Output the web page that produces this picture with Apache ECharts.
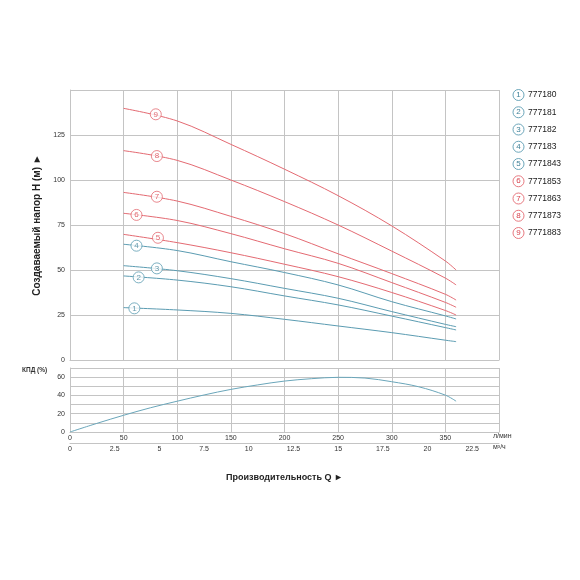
<!DOCTYPE html>
<html>
<head>
<meta charset="utf-8">
<script src="https://cdn.jsdelivr.net/npm/echarts@6/dist/echarts.min.js"></script>
<style>
html,body{margin:0;padding:0;background:#fff;}
#chart{width:580px;height:580px;}
</style>
</head>
<body>
<div id="chart"></div>
<script>
// ---- data ----
const models = ['777180','777181','777182','777183','7771843','7771853','7771863','7771873','7771883'];
const curveNumbers = ['1','2','3','4','5','6','7','8','9'];
const flowLmin = [50,100,150,200,250,300,350,360];
const head1 = [29.1,27.8,25.9,22.6,18.9,15.2,11.0,10.2];
const head2 = [46.7,44.4,40.7,35.6,30.6,24.4,18.0,16.7];
const head3 = [52.4,49.6,45.2,39.8,34.3,26.9,19.8,18.5];
const head4 = [64.3,60.8,54.6,48.6,41.7,32.4,24.5,22.8];
const head5 = [69.8,65.2,59.6,53.2,46.3,37.5,27.5,25.0];
const head6 = [81.5,77.5,70.2,61.8,53.7,43.0,32.0,29.3];
const head7 = [93.1,88.3,79.8,70.2,59.0,48.0,36.5,33.3];
const head8 = [116.3,110.9,100.0,88.0,75.0,60.5,45.5,41.7];
const head9 = [139.8,132.8,119.8,106.0,91.3,74.5,55.0,50.0];
const heads = [head1,head2,head3,head4,head5,head6,head7,head8,head9];
// circled number markers on curves
const markerFlow = [60,64,81,62,82,62,81,81,80];
const markerHead = [28.7,45.9,50.9,63.5,67.9,80.6,90.7,113.3,136.5];
// efficiency curve
const effFlow  = [0,25,50,75,100,125,150,175,200,225,250,275,300,325,350,360];
const effValue = [0,9.4,18.3,26.5,33.7,40.5,46.6,51.5,55.7,58.3,59.8,59.0,55.0,49.5,40.3,33.7];

// ---- styles ----
const TEAL = '#5b9cb2', RED = '#e46a72';
const TEAL_T = '#3f8198', RED_T = '#d8434e';
const GRID = '#c4c4c4';
const FONT = 'Liberation Sans, Arial, sans-serif';

const lineColor = i => (i < 4 ? TEAL : RED);
const legendTeal = i => i < 5;

const chart = echarts.init(document.getElementById('chart'), null, {renderer:'canvas'});

const series = heads.map((h, i) => ({
  name: models[i],
  type: 'line',
  xAxisIndex: 0, yAxisIndex: 0,
  smooth: 0.35,
  showSymbol: false,
  symbol: 'none',
  data: flowLmin.map((q, k) => [q, h[k]]),
  lineStyle: {color: lineColor(i), width: 1},
  itemStyle: {color: lineColor(i)},
  z: 3
}));

series.push({
  name: 'markers',
  type: 'scatter',
  xAxisIndex: 0, yAxisIndex: 0,
  symbol: 'circle',
  symbolSize: 11,
  z: 5,
  data: markerFlow.map((q, i) => ({
    value: [q, markerHead[i]],
    itemStyle: {color: '#fff', borderColor: lineColor(i), borderWidth: 1},
    label: {color: i < 4 ? TEAL_T : RED_T}
  })),
  label: {
    show: true, position: 'inside', fontSize: 8, fontFamily: FONT,
    formatter: p => curveNumbers[p.dataIndex]
  }
});

series.push({
  name: 'КПД',
  type: 'line',
  xAxisIndex: 1, yAxisIndex: 1,
  smooth: 0.35,
  showSymbol: false,
  symbol: 'none',
  data: effFlow.map((q, k) => [q, effValue[k]]),
  lineStyle: {color: '#6aa6ba', width: 1}
});

const rich = {
  t: {fontSize: 8.5, color: '#1a1a1a', fontFamily: FONT, padding: [0,0,0,4]},
  a: {width: 11, height: 11, lineHeight: 11, align: 'center', borderRadius: 6, borderWidth: 0.9,
      borderColor: TEAL, color: TEAL_T, fontSize: 8, fontFamily: FONT},
  b: {width: 11, height: 11, lineHeight: 11, align: 'center', borderRadius: 6, borderWidth: 0.9,
      borderColor: RED, color: RED_T, fontSize: 8, fontFamily: FONT}
};

const axisLbl = {fontSize: 7, color: '#333', fontFamily: FONT};

chart.setOption({
  animation: false,
  backgroundColor: '#fff',
  textStyle: {fontFamily: FONT},
  grid: [
    {left: 70, top: 90, width: 429, height: 270, show: false},
    {left: 70, top: 368, width: 429, height: 64, show: false}
  ],
  legend: {
    orient: 'vertical', left: 503, top: 84,
    icon: 'none', itemWidth: 0, itemHeight: 12, itemGap: 5.3,
    data: models,
    formatter: name => {
      const i = models.indexOf(name);
      return '{' + (legendTeal(i) ? 'a' : 'b') + '|' + curveNumbers[i] + '}{t|' + name + '}';
    },
    textStyle: {rich: rich},
    selectedMode: false
  },
  xAxis: [
    {gridIndex: 0, type: 'value', min: 0, max: 400, interval: 50,
     axisLabel: {show: false}, axisTick: {show: false},
     axisLine: {lineStyle: {color: GRID}},
     splitLine: {show: true, lineStyle: {color: GRID, width: 1}}},
    {gridIndex: 1, type: 'value', min: 0, max: 400, interval: 50,
     axisLabel: Object.assign({showMaxLabel: false, margin: 3}, axisLbl),
     axisTick: {show: false},
     axisLine: {lineStyle: {color: GRID}},
     splitLine: {show: true, lineStyle: {color: GRID, width: 1}},
     name: 'л/мин', nameLocation: 'end', nameGap: -6,
     nameTextStyle: {fontSize: 7, color: '#333', verticalAlign: 'top', padding: [1,0,0,0]}},
    {gridIndex: 1, type: 'value', min: 0, max: 24, interval: 2.5, position: 'bottom', offset: 11,
     axisLabel: Object.assign({showMaxLabel: false, margin: 3}, axisLbl),
     axisTick: {show: false},
     axisLine: {show: true, lineStyle: {color: GRID}},
     splitLine: {show: false},
     name: 'м³/ч', nameLocation: 'end', nameGap: -6,
     nameTextStyle: {fontSize: 7, color: '#333', verticalAlign: 'top', padding: [1,0,0,0]}}
  ],
  yAxis: [
    {gridIndex: 0, type: 'value', min: 0, max: 150, interval: 25,
     axisLabel: Object.assign({showMaxLabel: false, margin: 5}, axisLbl),
     axisTick: {show: false},
     axisLine: {show: true, lineStyle: {color: GRID}},
     splitLine: {show: true, lineStyle: {color: GRID, width: 1}},
     name: 'Создаваемый напор Н (м) ►', nameLocation: 'middle', nameGap: 20,
     nameTextStyle: {fontSize: 10, fontWeight: 'bold', color: '#222', fontFamily: FONT}},
    {gridIndex: 1, type: 'value', min: 0, max: 70, interval: 10,
     axisLabel: Object.assign({margin: 5, formatter: v => (v % 20 === 0 ? String(v) : '')}, axisLbl),
     axisTick: {show: false},
     axisLine: {show: true, lineStyle: {color: GRID}},
     splitLine: {show: true, lineStyle: {color: GRID, width: 1}}}
  ],
  graphic: [
    {type: 'text', left: 22, top: 367,
     style: {text: 'КПД (%)', fontSize: 6.5, fontWeight: 'bold', fill: '#333', fontFamily: FONT}},
    {type: 'text', x: 284.5, y: 478,
     style: {text: 'Производительность Q ►', fontSize: 9, fontWeight: 'bold', fill: '#222',
             textAlign: 'center', textVerticalAlign: 'middle', fontFamily: FONT}}
  ],
  series: series
});
</script>
</body>
</html>
